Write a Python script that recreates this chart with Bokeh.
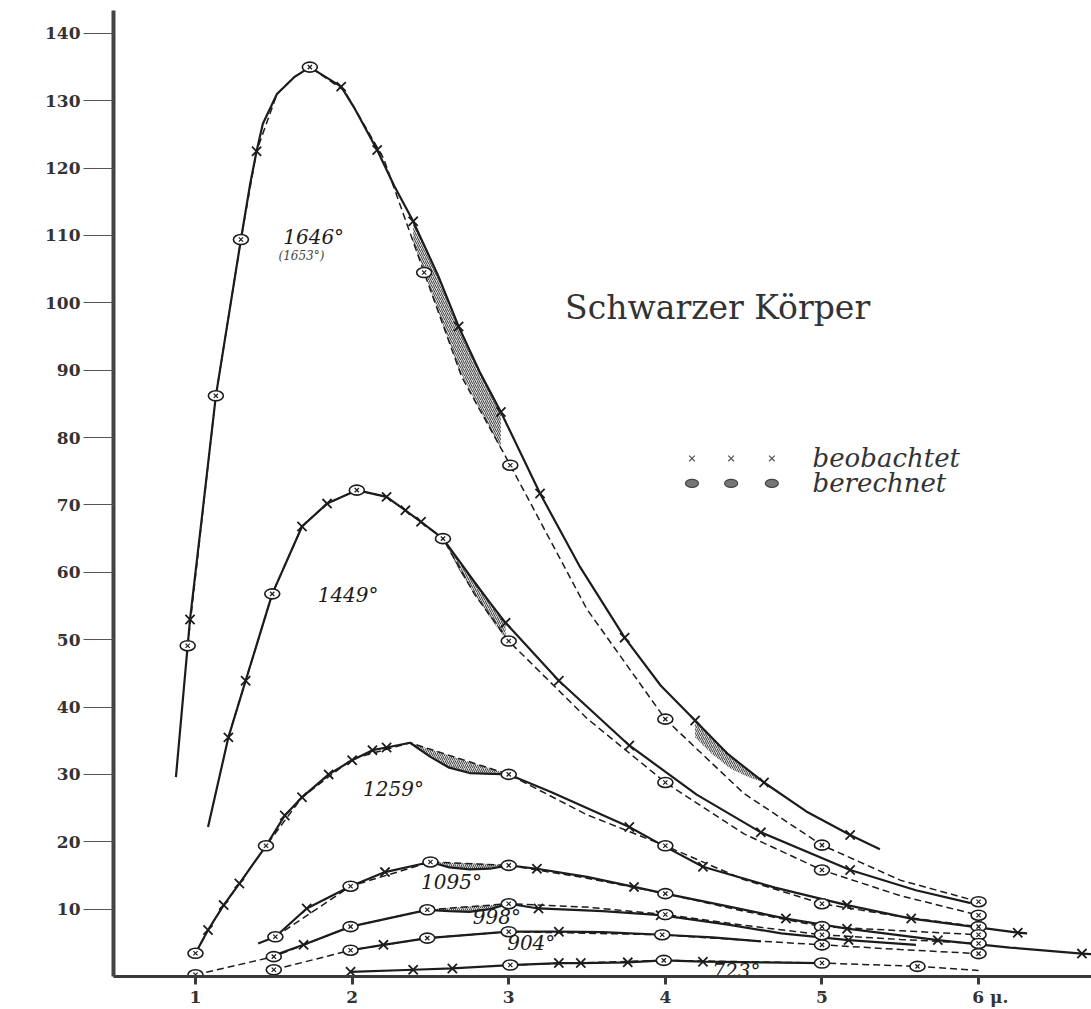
from bokeh.plotting import figure
from bokeh.models import Range1d, FixedTicker
from bokeh.core.properties import value
from bokeh.embed import file_html
from bokeh.resources import INLINE

# ---------------- axes ----------------
X_TICKS = [1, 2, 3, 4, 5, 6]
X_TICK_LABELS = ["1", "2", "3", "4", "5", "6 μ."]
Y_TICKS = [10, 20, 30, 40, 50, 60, 70, 80, 90, 100, 110, 120, 130, 140]

# ---------------- data: wavelength (μ) / energy; PT = 1 where a point is marked ----------------
# 1646° -- beobachtet (x) / berechnet (o)
T1646_OBS_LAM = [0.875, 0.965, 1.05, 1.13, 1.29, 1.35, 1.39, 1.43, 1.52, 1.63, 1.73, 1.93, 2.01, 2.16, 2.27,
                 2.39, 2.55, 2.68, 2.82, 2.95, 3.20, 3.45, 3.74, 3.97, 4.19, 4.40, 4.63, 4.90, 5.18, 5.37]
T1646_OBS_VAL = [29.6, 53.0, 70.0, 86.2, 109.4, 117.8, 122.5, 126.6, 131.0, 133.5, 135.0, 132.1, 129.1, 122.7, 117.3,
                 112.1, 104.0, 96.5, 89.5, 83.8, 71.7, 61.0, 50.3, 43.2, 38.0, 33.0, 28.8, 24.5, 21.0, 18.9]
T1646_OBS_PT = [0, 1, 0, 0, 0, 0, 1, 0, 0, 0, 0, 1, 0, 1, 0,
                1, 0, 1, 0, 1, 1, 0, 1, 0, 1, 0, 1, 0, 1, 0]
T1646_CALC_LAM = [0.95, 1.13, 1.29, 1.39, 1.52, 1.63, 1.73, 1.95, 2.20, 2.46, 2.70, 3.01, 3.50, 4.00, 4.50, 5.00, 5.50, 6.00]
T1646_CALC_VAL = [49.1, 86.2, 109.4, 122.5, 131.0, 133.5, 135.0, 131.5, 121.5, 104.5, 89.0, 75.9, 54.5, 38.2, 27.2, 19.5, 14.3, 11.1]
T1646_CALC_PT = [1, 1, 1, 0, 0, 0, 1, 0, 0, 1, 0, 1, 0, 1, 0, 1, 0, 1]

# 1449°
T1449_OBS_LAM = [1.08, 1.21, 1.32, 1.49, 1.68, 1.84, 2.03, 2.22, 2.34, 2.44, 2.58, 2.68, 2.78, 2.88, 2.98,
                 3.32, 3.77, 4.20, 4.61, 5.18, 5.60, 5.95]
T1449_OBS_VAL = [22.2, 35.5, 43.9, 56.8, 66.8, 70.2, 72.2, 71.2, 69.2, 67.5, 65.0, 61.8, 58.6, 55.5, 52.5,
                 43.9, 34.3, 27.0, 21.4, 15.8, 12.8, 10.9]
T1449_OBS_PT = [0, 1, 1, 0, 1, 1, 0, 1, 1, 1, 0, 0, 0, 0, 1, 1, 1, 0, 1, 1, 0, 0]
T1449_CALC_LAM = [1.21, 1.32, 1.49, 1.68, 1.84, 2.03, 2.22, 2.44, 2.58, 2.78, 3.00, 3.50, 4.00, 4.50, 5.00, 5.50, 6.00]
T1449_CALC_VAL = [35.5, 43.9, 56.8, 66.8, 70.2, 72.2, 71.2, 67.5, 65.0, 56.8, 49.8, 38.3, 28.8, 21.2, 15.8, 12.0, 9.1]
T1449_CALC_PT = [0, 0, 1, 0, 0, 1, 0, 0, 1, 0, 1, 0, 1, 0, 1, 0, 1]

# 1259°
T1259_OBS_LAM = [1.00, 1.08, 1.18, 1.28, 1.45, 1.57, 1.68, 1.85, 2.00, 2.13, 2.22, 2.37, 2.50, 2.62, 2.75,
                 3.00, 3.27, 3.77, 3.98, 4.24, 4.70, 5.16, 5.57, 6.25, 6.31]
T1259_OBS_VAL = [3.45, 6.9, 10.6, 13.8, 19.4, 23.9, 26.6, 30.0, 32.1, 33.6, 34.0, 34.7, 32.6, 31.0, 30.2,
                 30.0, 27.4, 22.2, 19.5, 16.3, 13.2, 10.6, 8.6, 6.5, 6.4]
T1259_OBS_PT = [0, 1, 1, 1, 0, 1, 1, 1, 1, 1, 1, 0, 0, 0, 0, 0, 0, 1, 0, 1, 0, 1, 1, 1, 0]
T1259_CALC_LAM = [1.00, 1.08, 1.18, 1.28, 1.45, 1.68, 2.00, 2.37, 3.00, 3.50, 4.00, 4.50, 5.00, 5.50, 6.00]
T1259_CALC_VAL = [3.45, 6.9, 10.6, 13.8, 19.4, 26.6, 32.3, 34.7, 30.0, 24.0, 19.4, 14.4, 10.8, 8.9, 7.4]
T1259_CALC_PT = [1, 0, 0, 0, 1, 0, 0, 0, 1, 0, 1, 0, 1, 0, 1]

# 1095°
T1095_OBS_LAM = [1.40, 1.51, 1.71, 1.99, 2.21, 2.50, 2.62, 2.75, 2.88, 3.00, 3.18, 3.50, 3.80, 4.00, 4.40,
                 4.77, 5.16, 5.74, 6.20, 6.66, 6.85]
T1095_OBS_VAL = [4.9, 5.9, 10.1, 13.4, 15.5, 17.0, 16.2, 15.9, 16.0, 16.5, 16.0, 14.8, 13.3, 12.3, 10.4,
                 8.6, 7.1, 5.4, 4.3, 3.4, 3.1]
T1095_OBS_PT = [0, 0, 1, 0, 1, 0, 0, 0, 0, 0, 1, 0, 1, 0, 0, 1, 1, 1, 0, 1, 0]
T1095_CALC_LAM = [1.51, 1.99, 2.50, 3.00, 3.50, 4.00, 4.50, 5.00, 5.50, 6.00]
T1095_CALC_VAL = [5.9, 13.4, 17.0, 16.5, 14.6, 12.3, 9.7, 7.4, 6.8, 6.2]
T1095_CALC_PT = [1, 1, 1, 1, 0, 1, 0, 1, 0, 1]

# 998°
T998_OBS_LAM = [1.45, 1.69, 1.99, 2.48, 2.62, 2.75, 2.88, 3.00, 3.19, 3.60, 3.97, 4.40, 4.74, 5.17, 5.60]
T998_OBS_VAL = [2.7, 4.7, 7.4, 9.9, 9.7, 9.6, 10.0, 10.8, 10.1, 9.7, 9.1, 7.7, 6.4, 5.4, 4.7]
T998_OBS_PT = [0, 1, 0, 0, 0, 0, 0, 0, 1, 0, 1, 0, 0, 1, 0]
T998_CALC_LAM = [1.00, 1.50, 1.99, 2.48, 3.00, 3.50, 4.00, 4.50, 5.00, 5.50, 6.00]
T998_CALC_VAL = [0.25, 2.95, 7.4, 9.9, 10.8, 10.3, 9.2, 7.6, 6.2, 5.5, 4.9]
T998_CALC_PT = [1, 1, 1, 1, 1, 0, 1, 0, 1, 0, 1]

# 904°
T904_OBS_LAM = [1.99, 2.20, 2.48, 3.00, 3.32, 3.60, 3.98, 4.30, 4.61]
T904_OBS_VAL = [3.9, 4.7, 5.7, 6.65, 6.65, 6.6, 6.2, 5.8, 5.2]
T904_OBS_PT = [0, 1, 0, 0, 1, 0, 0, 0, 0]
T904_CALC_LAM = [1.50, 1.99, 2.48, 3.00, 3.98, 4.50, 5.00, 5.50, 6.00]
T904_CALC_VAL = [1.0, 3.9, 5.7, 6.65, 6.2, 5.4, 4.7, 4.0, 3.4]
T904_CALC_PT = [1, 1, 1, 1, 1, 0, 1, 0, 1]

# 723°
T723_OBS_LAM = [1.99, 2.39, 2.64, 3.01, 3.32, 3.46, 3.76, 3.99, 4.24, 4.60, 5.00]
T723_OBS_VAL = [0.7, 1.0, 1.2, 1.7, 2.0, 2.0, 2.1, 2.4, 2.2, 2.1, 2.0]
T723_OBS_PT = [1, 1, 1, 0, 1, 1, 1, 0, 1, 0, 0]
T723_CALC_LAM = [3.01, 3.99, 5.00, 5.61, 6.00]
T723_CALC_VAL = [1.7, 2.4, 2.0, 1.5, 0.9]
T723_CALC_PT = [1, 1, 1, 1, 0]

# hatched (absorption) bands: wavelength, lower edge, upper edge
H1646A_LAM = [2.39, 2.55, 2.68, 2.82, 2.95]
H1646A_LO = [109.1, 98.7, 90.3, 83.9, 78.4]
H1646A_HI = [112.1, 104.0, 96.5, 89.5, 83.8]
H1646B_LAM = [4.19, 4.30, 4.42, 4.53, 4.63]
H1646B_LO = [35.5, 33.0, 30.8, 29.6, 28.8]
H1646B_HI = [38.0, 35.4, 32.8, 30.7, 28.8]
H1449_LAM = [2.58, 2.68, 2.78, 2.88, 2.98]
H1449_LO = [65.0, 60.4, 56.8, 53.3, 50.1]
H1449_HI = [65.0, 61.8, 58.6, 55.5, 52.5]
H1259_LAM = [2.37, 2.50, 2.62, 2.75, 2.88, 3.00]
H1259_LO = [34.7, 32.6, 31.0, 30.2, 30.0, 30.0]
H1259_HI = [34.7, 33.7, 32.8, 31.8, 30.9, 30.0]
H1095_LAM = [2.50, 2.62, 2.75, 2.88, 3.00]
H1095_LO = [17.0, 16.2, 15.9, 16.0, 16.5]
H1095_HI = [17.0, 16.9, 16.8, 16.7, 16.5]
H998_LAM = [2.48, 2.62, 2.75, 2.88, 3.00]
H998_LO = [9.9, 9.7, 9.6, 10.0, 10.8]
H998_HI = [9.9, 10.2, 10.4, 10.6, 10.8]

# curve labels
CURVE_LABELS = ["1646°", "1449°", "1259°", "1095°", "998°", "904°", "723°"]
TITLE = "Schwarzer Körper"
SUBLABEL = "(1653°)"
LEGEND_TEXTS = ["beobachtet", "berechnet"]

CURVES = [
    (T1646_OBS_LAM, T1646_OBS_VAL, T1646_OBS_PT, T1646_CALC_LAM, T1646_CALC_VAL, T1646_CALC_PT),
    (T1449_OBS_LAM, T1449_OBS_VAL, T1449_OBS_PT, T1449_CALC_LAM, T1449_CALC_VAL, T1449_CALC_PT),
    (T1259_OBS_LAM, T1259_OBS_VAL, T1259_OBS_PT, T1259_CALC_LAM, T1259_CALC_VAL, T1259_CALC_PT),
    (T1095_OBS_LAM, T1095_OBS_VAL, T1095_OBS_PT, T1095_CALC_LAM, T1095_CALC_VAL, T1095_CALC_PT),
    (T998_OBS_LAM, T998_OBS_VAL, T998_OBS_PT, T998_CALC_LAM, T998_CALC_VAL, T998_CALC_PT),
    (T904_OBS_LAM, T904_OBS_VAL, T904_OBS_PT, T904_CALC_LAM, T904_CALC_VAL, T904_CALC_PT),
    (T723_OBS_LAM, T723_OBS_VAL, T723_OBS_PT, T723_CALC_LAM, T723_CALC_VAL, T723_CALC_PT),
]
HATCHES = [
    (H1646A_LAM, H1646A_LO, H1646A_HI), (H1646B_LAM, H1646B_LO, H1646B_HI),
    (H1449_LAM, H1449_LO, H1449_HI), (H1259_LAM, H1259_LO, H1259_HI),
    (H1095_LAM, H1095_LO, H1095_HI), (H998_LAM, H998_LO, H998_HI),
]

# ---------------- figure ----------------
INK = "#1c1c1c"
SERIF = "DejaVu Serif"

p = figure(width=1091, height=1009,
           x_range=Range1d(0.4764, 6.721), y_range=Range1d(0, 143.4),
           output_backend="svg", toolbar_location=None,
           min_border_left=113, min_border_right=0, min_border_top=10, min_border_bottom=29)
p.outline_line_color = None
p.xgrid.visible = False
p.ygrid.visible = False
p.background_fill_color = "white"
p.border_fill_color = "white"

for lam, lo, hi in HATCHES:
    p.varea(x=lam, y1=lo, y2=hi, fill_color="#8a8a8a", fill_alpha=0.35,
            hatch_pattern="/", hatch_color="#2a2a2a", hatch_scale=4, hatch_weight=1, hatch_alpha=0.8)


def pick(xs, ys, flags):
    return [x for x, f in zip(xs, flags) if f], [y for y, f in zip(ys, flags) if f]


for ol, ov, op, cl, cv, cp in CURVES:
    p.line(cl, cv, line_color=INK, line_width=1.5, line_dash="7 4")
    p.line(ol, ov, line_color=INK, line_width=2.2)
    xx, xy = pick(ol, ov, op)
    p.scatter(xx, xy, marker="x", size=13, line_width=1.8, line_color=INK)
    cx, cy = pick(cl, cv, cp)
    p.ellipse(cx, cy, width=15, height=10, width_units="screen", height_units="screen",
              fill_color="white", line_color=INK, line_width=1.6)
    p.scatter(cx, cy, marker="x", size=6, line_width=1.2, line_color=INK)

# curve labels
p.text(x=[1.56, 1.78, 2.07, 2.44, 2.77, 2.99, 4.30], y=[109.8, 56.6, 27.8, 14.0, 8.9, 4.9, 0.75],
       text=CURVE_LABELS, text_font=value(SERIF), text_font_style="italic",
       text_font_size="20px", text_baseline="middle", text_align="left", text_color=INK)
p.text(x=[1.53], y=[106.9], text=[SUBLABEL], text_font=value(SERIF), text_font_style="italic",
       text_font_size="12px", text_baseline="middle", text_align="left", text_color="#444")

# title
p.text(x=[3.36], y=[99.3], text=[TITLE], text_font=value(SERIF), text_font_size="33px",
       text_baseline="middle", text_align="left", text_color="#333")

# legend
LEG_X = [4.17, 4.42, 4.68]
p.scatter(LEG_X, [76.9] * 3, marker="x", size=8, line_width=1.2, line_color="#555")
p.ellipse(LEG_X, [73.2] * 3, width=13, height=8, width_units="screen", height_units="screen",
          fill_color="#777", line_color="#444", line_width=1.2)
p.text(x=[4.94, 4.94], y=[76.9, 73.2], text=LEGEND_TEXTS, text_font=value(SERIF),
       text_font_style="italic", text_font_size="26px", text_baseline="middle",
       text_align="left", text_color="#333")

# axes
p.xaxis.ticker = FixedTicker(ticks=X_TICKS)
labels = list(X_TICK_LABELS)
labels[-1] = "\u00a0\u00a0\u00a0\u00a0" + labels[-1]
p.xaxis.major_label_overrides = {t: s for t, s in zip(X_TICKS, labels)}
p.xaxis.axis_line_width = 3
p.xaxis.axis_line_color = "#3a3a3a"
p.xaxis.major_tick_line_width = 3
p.xaxis.major_tick_line_color = "#3a3a3a"
p.xaxis.major_tick_in = 0
p.xaxis.major_tick_out = 8
p.xaxis.minor_tick_line_color = None
p.xaxis.major_label_standoff = 2
p.xaxis.major_label_text_font = SERIF
p.xaxis.major_label_text_font_size = "17px"
p.xaxis.major_label_text_font_style = "bold"
p.xaxis.major_label_text_color = "#333"

p.yaxis.ticker = FixedTicker(ticks=Y_TICKS)
p.yaxis.axis_line_width = 4
p.yaxis.axis_line_color = "#444"
p.yaxis.major_tick_line_width = 1
p.yaxis.major_tick_line_color = "#555"
p.yaxis.major_tick_in = 0
p.yaxis.major_tick_out = 30
p.yaxis.minor_tick_line_color = None
p.yaxis.major_label_standoff = 3
p.yaxis.major_label_text_font = SERIF
p.yaxis.major_label_text_font_size = "17px"
p.yaxis.major_label_text_font_style = "bold"
p.yaxis.major_label_text_color = "#333"

open("out.html", "w").write(file_html(p, INLINE))
